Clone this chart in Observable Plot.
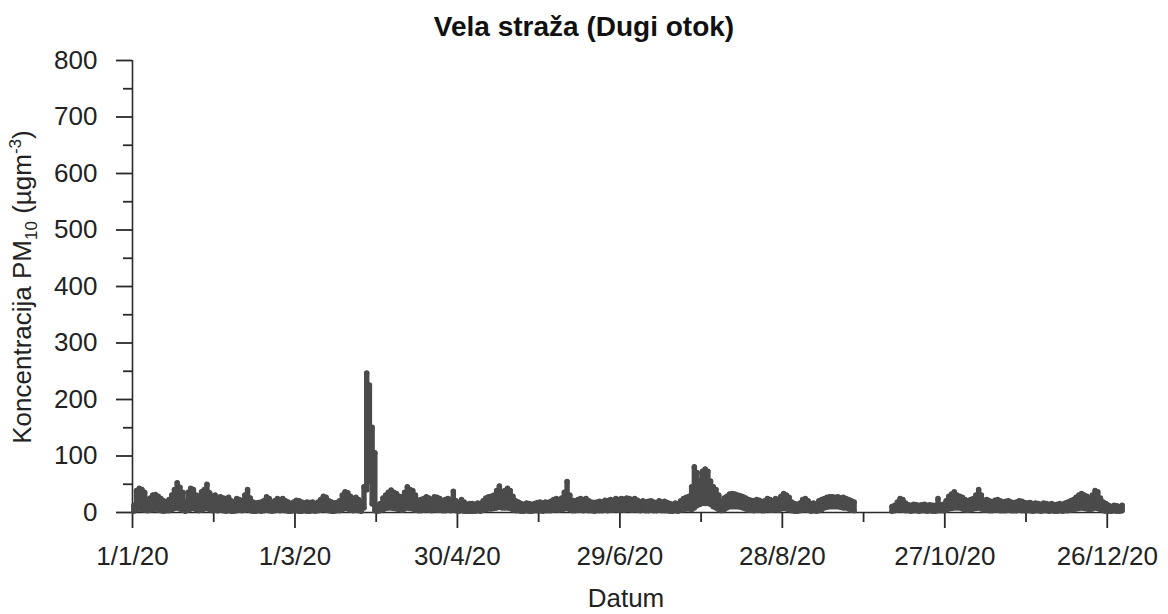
<!DOCTYPE html>
<html>
<head>
<meta charset="utf-8">
<script src="https://cdn.jsdelivr.net/npm/d3@7"></script>
<script src="https://cdn.jsdelivr.net/npm/@observablehq/plot@0.6"></script>
<style>
  body { margin: 0; background: #fff; font-family: "Liberation Sans", Arial, sans-serif; }
  #title { width: 1168px; height: 50px; line-height: 54px; text-align: center; font-weight: bold; font-size: 28px; color: #111; }
</style>
</head>
<body>
<div id="title">Vela straža (Dugi otok)</div>
<div id="chart"></div>
<script>
// Daily highest and lowest hourly PM10 values (µg/m³), one entry per day of 2020; null = no data
const janMax = [12,38,42,40,35,22,25,30,31,28, 24,20,18,22,30,40,52,44,35,18, 35,42,40,30,28,36,40,49,34,28, 30];
const febMax = [26,27,25,24,26,20,18,24,22, 20,30,40,25,18,16,17,18,20,27, 24,14,20,24,22,24,20,18,12,18];
const marMax = [21,20,18,16,18,17,18,15,18,22, 28,26,20,18,16,17,20,30,36,34, 28,24,26,22,18,45,246,225,150,105, 12];
const aprMax = [15,25,30,35,39,35,33,28,27, 35,45,40,38,30,21,22,24,27,25, 22,27,26,24,20,22,24,22,37,20, 15];
const mayMax = [22,18,14,15,15,14,16,15,20, 25,27,28,30,38,46,35,38,42,38, 28,20,18,15,14,16,15,14,15,17, 18,16];
const junMax = [18,17,19,22,24,22,25,35, 54,30,21,20,22,24,22,24,20,18, 17,18,19,18,21,20,22,21,24,22, 24,23];
const julMax = [25,24,22,24,21,18,20,18, 19,20,18,17,20,18,19,17,15,14, 16,15,20,24,26,28,45,80,70,55, 72,76,72];
const augMax = [55,45,40,30,18,25,28, 32,33,32,30,29,27,25,22,21,20, 22,21,18,20,24,22,20,24,22,28, 33,30,26,18];
const sepMax = [15,14,16,22,24,20, 15,16,14,20,22,24,26,27,27,26, 27,25,26,24,22,20,18, null,null,null,null,null,null,null];
const octMax = [null,null,null,null,null,null, 10,12,18,24,22,16,13,12,14,13, 12,13,14,12,13,12,12,24,13,14, 20,28,32,36,30];
const novMax = [28,26,22,20,22, 24,30,40,30,21,22,20,18,21,22, 20,18,19,20,18,17,18,20,19,17, 16,17,15,16,15];
const decMax = [14,16,15,14,15, 13,14,15,14,16,18,20,22,26,30, 33,30,28,24,30,38,36,25,18,15, 12,10,12,11,10,12];

const janMin = [2,5,6,5,4,3,4,5,6,4, 3,2,3,3,5,7,8,6,4,2, 4,6,7,5,3,4,6,7,5,3, 4];
const febMin = [3,4,3,2,3,2,2,3,4, 3,4,6,3,2,2,3,2,3,4, 3,2,3,4,3,4,3,2,2,3];
const marMin = [3,2,2,3,2,2,3,2,3,4, 5,4,3,2,2,3,3,5,7,6, 4,3,4,3,2,8,40,55,15,3, 2];
const aprMin = [3,5,7,8,8,7,6,5,4, 6,8,7,6,4,3,3,4,5,4, 3,5,4,4,3,3,4,3,4,3, 2];
const mayMin = [3,2,2,2,2,2,3,2,4, 5,6,6,7,8,9,8,8,8,7, 5,3,3,2,2,3,2,2,3,3, 3,2];
const junMin = [3,3,3,4,5,4,5,6, 7,5,3,3,4,4,3,4,3,3, 2,3,3,3,4,3,4,4,5,4, 5,4];
const julMin = [5,5,4,5,4,3,4,3, 3,4,3,3,4,3,3,3,2,2, 3,2,4,5,6,6,5,8,12,14, 16,16,16];
const augMin = [14,10,8,5,3,5,8, 10,10,10,10,9,8,6,4,4,3, 4,4,3,3,5,4,4,5,4,6, 7,6,5,3];
const sepMin = [2,2,3,4,5,4, 2,3,2,3,5,8,9,10,10,10, 10,9,8,8,6,4,3, null,null,null,null,null,null,null];
const octMin = [null,null,null,null,null,null, 2,3,4,5,4,3,3,2,3,3, 2,3,3,2,3,2,2,3,3,3, 4,6,7,8,8];
const novMin = [8,6,4,4,5, 6,7,8,6,4,4,3,3,4,4, 3,3,3,4,3,3,3,4,3,3, 3,3,2,3,3];
const decMin = [2,3,3,2,3, 2,2,3,2,3,3,4,5,6,7, 8,7,6,5,6,8,7,5,3,2, 2,2,3,2,2,3];

const majorTickDates = ["2020-01-01","2020-03-01","2020-04-30","2020-06-29","2020-08-28","2020-10-27","2020-12-26"];
const majorTickLabels = ["1/1/20","1/3/20","30/4/20","29/6/20","28/8/20","27/10/20","26/12/20"];
const minorTickDates = ["2020-01-31","2020-03-31","2020-05-30","2020-07-29","2020-09-27","2020-11-26"];
const yMajorTicks = [0,100,200,300,400,500,600,700,800];
const yMinorTicks = [50,150,250,350,450,550,650,750];

const titleText = "Vela straža (Dugi otok)";
const xLabel = "Datum";

// ---- build table ----
const maxByMonth = [janMax,febMax,marMax,aprMax,mayMax,junMax,julMax,augMax,sepMax,octMax,novMax,decMax];
const minByMonth = [janMin,febMin,marMin,aprMin,mayMin,junMin,julMin,augMin,sepMin,octMin,novMin,decMin];
const t0 = Date.UTC(2020, 0, 1);
const rows = [];
let dayIndex = 0;
maxByMonth.forEach((arr, m) => {
  arr.forEach((v, i) => {
    const lo = minByMonth[m][i];
    if (v != null) rows.push({date: new Date(t0 + (dayIndex + 0.5) * 864e5), max: v, min: lo});
    dayIndex++;
  });
});

const toDate = s => new Date(s + "T00:00:00Z");
const majorDates = majorTickDates.map(toDate);
const minorDates = minorTickDates.map(toDate);
const labelByTime = new Map(majorDates.map((d, i) => [+d, majorTickLabels[i]]));
const xStart = new Date(t0);
const xEnd = new Date(Date.UTC(2021, 0, 1));

const ink = "#4b4b4b";
const axisInk = "#2a2a2a";

const chart = Plot.plot({
  width: 1168,
  height: 564,
  marginTop: 10,
  marginBottom: 102,
  marginLeft: 132,
  marginRight: 45,
  style: {fontFamily: '"Liberation Sans", Arial, sans-serif', fontSize: "26px", color: "#222", background: "#fff", overflow: "visible"},
  x: {type: "utc", domain: [xStart, xEnd]},
  y: {domain: [0, 800]},
  marks: [
    Plot.ruleY([0], {stroke: axisInk, strokeWidth: 1.6}),
    Plot.ruleX([xStart], {y1: 0, y2: 800, stroke: axisInk, strokeWidth: 1.6}),
    Plot.axisY({ticks: yMajorTicks, tickSize: 16, tickPadding: 19, tickFormat: d => String(d), label: null, stroke: axisInk, strokeWidth: 1.8}),
    Plot.axisY({ticks: yMinorTicks, tickSize: 9, tickFormat: () => "", label: null, stroke: axisInk, strokeWidth: 1.8}),
    Plot.axisX({ticks: majorDates, tickSize: 16, tickPadding: 18, tickFormat: d => labelByTime.get(+d), label: null, stroke: axisInk, strokeWidth: 1.8}),
    Plot.axisX({ticks: minorDates, tickSize: 10, tickFormat: () => "", label: null, stroke: axisInk, strokeWidth: 1.8}),
    Plot.ruleX(rows, {x: "date", y1: "min", y2: "max", stroke: ink, strokeWidth: 5.4, strokeLinecap: "round"}),
    Plot.dot(rows, {x: "date", y: "max", r: 2.7, fill: ink}),
    Plot.dot(rows, {x: "date", y: "min", r: 2.7, fill: ink})
  ]
});

const svg = d3.select(chart);
svg.append("text")
  .attr("x", 626).attr("y", 557)
  .attr("text-anchor", "middle")
  .attr("fill", "#222")
  .style("font-size", "26px")
  .text(xLabel);

const yl = svg.append("text")
  .attr("transform", "translate(31,237) rotate(-90)")
  .attr("text-anchor", "middle")
  .attr("fill", "#222")
  .style("font-size", "26px");
yl.append("tspan").text("Koncentracija PM");
yl.append("tspan").attr("font-size", "17px").attr("dy", 6).text("10");
yl.append("tspan").attr("dy", -6).text(" (µgm");
yl.append("tspan").attr("font-size", "17px").attr("dy", -10).text("-3");
yl.append("tspan").attr("dy", 10).text(")");

document.getElementById("title").textContent = titleText;
document.getElementById("chart").appendChild(chart);
</script>
</body>
</html>
